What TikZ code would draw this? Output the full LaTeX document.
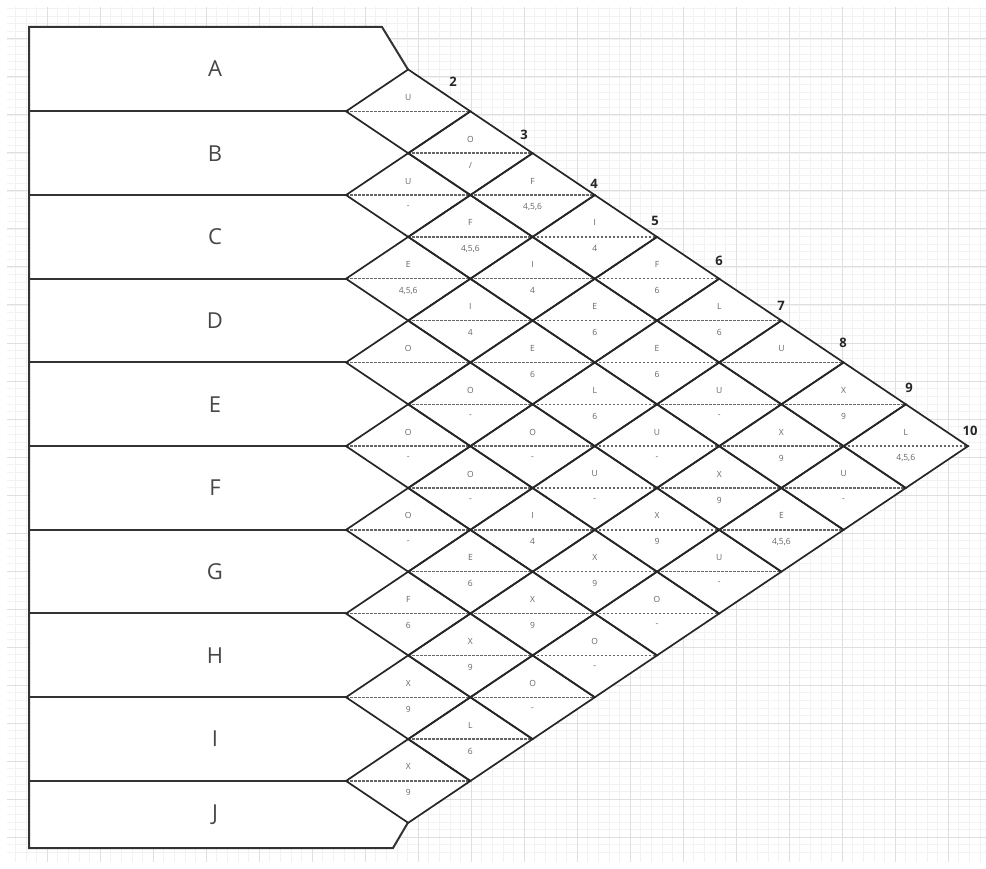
\documentclass[tikz,border=0pt]{standalone}
\usepackage{fontspec}
\setmainfont{Open Sans}
\begin{document}
\begin{tikzpicture}[x=1pt,y=-1pt,
  gridminor/.style={draw=gray!10,line width=0.6pt},
  gridmajor/.style={draw=gray!25,line width=1pt},
  rowline/.style={draw=black!80,line width=2pt},
  dmdline/.style={draw=black!85,line width=1.7pt,line join=miter},
  midline/.style={draw=black!60,line width=1.5pt,dash pattern=on 2.5pt off 1.5pt},
  rowlabel/.style={font=\fontsize{22}{24}\selectfont,text=black!72,inner sep=0pt},
  numlabel/.style={font=\fontsize{13}{15}\selectfont\bfseries,text=black!85,inner sep=0pt},
  cell/.style={font=\fontsize{8.5}{9}\selectfont,text=black!60,inner sep=0pt}]
\useasboundingbox (0,0) rectangle (986,869);
\fill[white] (0,0) rectangle (986,869);
% graph-paper background
\foreach \m in {-3,...,88} {\draw[gridminor] ({47+10.6*\m},7) -- ({47+10.6*\m},862);}
\foreach \m in {1,...,112} {\draw[gridminor] (7,{1+7.6*\m}) -- (986,{1+7.6*\m});}
\foreach \m in {0,...,17} {\draw[gridmajor] ({47+53*\m},7) -- ({47+53*\m},862);}
\foreach \m in {1,...,22} {\draw[gridmajor] (7,{1+38*\m}) -- (986,{1+38*\m});}
% white body
\fill[white] (29,27) -- (382,27) -- (408,69.5) -- (968,446.2) -- (408,822.5) -- (393,848) -- (29,848) -- cycle;
% row boxes
\coordinate (tl) at (29,27);
\coordinate (tr) at (382,27);
\coordinate (tv) at (408,69.5);
\coordinate (bl) at (29,848);
\coordinate (br) at (393,848);
\coordinate (bv) at (408,822.5);
\draw[rowline] (tv) -- (tr) -- (tl) -- (bl) -- (br) -- (bv);
\foreach \k in {1,...,9} {
  \pgfmathsetmacro{\yb}{69.5+83.67*(\k-1)+41.85}
  \coordinate (rl\k) at (29,\yb);
  \coordinate (rr\k) at (346,\yb);
  \draw[rowline] (rl\k) -- (rr\k);
}
% row labels
\foreach \n/\t/\yy in {1/A/69,2/B/153.2,3/C/236.9,4/D/320.5,5/E/404.2,6/F/487.9,7/G/571.6,8/H/655.2,9/I/738.9,10/J/815} {
  \node[rowlabel] (row\n) at (215,\yy) {\t};
}
% relationship diamonds
\foreach \i/\j/\tp/\bt in {
  1/2/U/{}, 2/3/U/-, 3/4/E/{4,5,6}, 4/5/O/{}, 5/6/O/-, 6/7/O/-, 7/8/F/6, 8/9/X/9, 9/10/X/9,
  1/3/O/{/}, 2/4/F/{4,5,6}, 3/5/I/4, 4/6/O/-, 5/7/O/-, 6/8/E/6, 7/9/X/9, 8/10/L/6,
  1/4/F/{4,5,6}, 2/5/I/4, 3/6/E/6, 4/7/O/-, 5/8/I/4, 6/9/X/9, 7/10/O/-,
  1/5/I/4, 2/6/E/6, 3/7/L/6, 4/8/U/-, 5/9/X/9, 6/10/O/-,
  1/6/F/6, 2/7/E/6, 3/8/U/-, 4/9/X/9, 5/10/O/-,
  1/7/L/6, 2/8/U/-, 3/9/X/9, 4/10/U/-,
  1/8/U/{}, 2/9/X/9, 3/10/E/{4,5,6},
  1/9/X/9, 2/10/U/-,
  1/10/L/{4,5,6}} {
  \pgfmathsetmacro{\cx}{346+62.2*(\j-\i)}
  \pgfmathsetmacro{\cy}{69.5+41.85*(\i+\j-2)}
  \coordinate (dl\i-\j) at (\cx-62.2,\cy);
  \coordinate (dr\i-\j) at (\cx+62.2,\cy);
  \coordinate (dt\i-\j) at (\cx,\cy-41.85);
  \coordinate (db\i-\j) at (\cx,\cy+41.85);
  \draw[midline] (dl\i-\j) -- (dr\i-\j);
  \draw[dmdline] (dl\i-\j) -- (dt\i-\j) -- (dr\i-\j) -- (db\i-\j) -- cycle;
  \node[cell] (up\i-\j) at (\cx,\cy-14) {\tp};
  \node[cell] (lo\i-\j) at (\cx,\cy+12) {\bt};
}
% column numbers
\foreach \n/\xx/\yy in {2/453/82,3/524/135,4/594/184,5/655/221,6/719/261,7/781/306,8/843/343,9/909/388,10/970/431} {
  \node[numlabel] (num\n) at (\xx,\yy) {\n};
}
\end{tikzpicture}
\end{document}
